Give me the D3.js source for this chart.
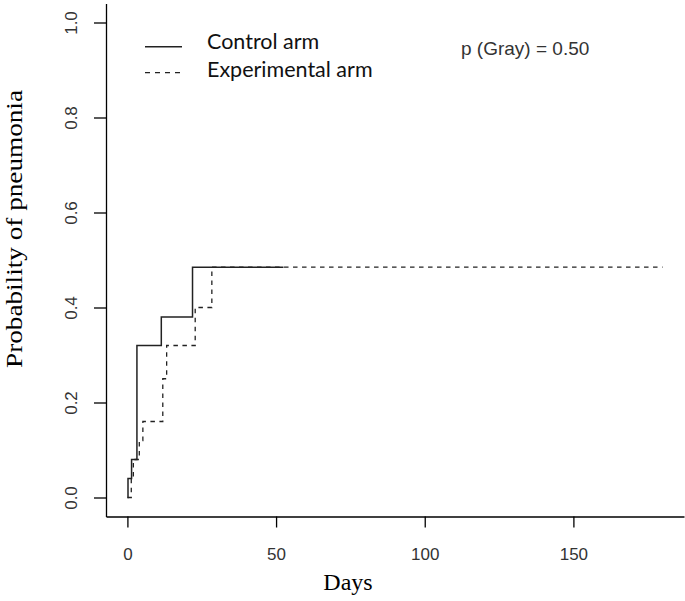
<!DOCTYPE html>
<html>
<head>
<meta charset="UTF-8"/>
<title>Cumulative incidence of pneumonia</title>
<script src="https://d3js.org/d3.v7.min.js"></script>
<style>
body { margin: 0; background: #fff; }
svg { display: block; }
.axis path, .axis line { stroke: #000; stroke-width: 1.3; }
.axis text { font-family: 'Liberation Sans', Arial, sans-serif; font-size: 17px; fill: #333; }
.title { font-family: 'Liberation Serif', 'Times New Roman', serif; font-size: 24px; fill: #000; }
.legend { font-family: Lato, 'Open Sans', sans-serif; font-size: 21.5px; fill: #111; }
.note { font-family: 'Liberation Sans', Arial, sans-serif; font-size: 19px; fill: #333; }
.curve { fill: none; stroke: #222; }
</style>
</head>
<body>
<svg width="685" height="601"></svg>
<script>
// step points (days, cumulative probability)
const controlDays = [0, 0.2, 1.4, 3.2, 11.4, 21.9, 52.5];
const controlProb = [0, 0.04, 0.08, 0.32, 0.38, 0.485, 0.485];

const expDays = [0, 1.3, 2.0, 4.0, 5.2, 11.9, 13.2, 22.8, 28.4, 180];
const expProb = [0, 0.04, 0.08, 0.12, 0.16, 0.25, 0.32, 0.40, 0.485, 0.485];

const xTicks = [0, 50, 100, 150];
const yTicks = [0, 0.2, 0.4, 0.6, 0.8, 1.0];

const svg = d3.select('svg');

// R style plot region: data range padded by 4%
const x = d3.scaleLinear().domain([-7.2, 187.2]).range([106, 684]);
const y = d3.scaleLinear().domain([-0.04, 1.04]).range([516.5, 3.5]);

svg.append('g')
  .attr('class', 'axis')
  .attr('transform', `translate(0, ${y.range()[0]})`)
  .call(d3.axisBottom(x).tickValues(xTicks).tickSize(11).tickSizeOuter(0))
  .selectAll('text').attr('dy', 0).attr('y', 43);

const yAxis = svg.append('g')
  .attr('class', 'axis')
  .attr('transform', `translate(${x.range()[0]}, 0)`)
  .call(d3.axisLeft(y).tickValues(yTicks).tickSize(12).tickSizeOuter(0).tickFormat(d3.format('.1f')));

yAxis.selectAll('text')
  .attr('x', 0).attr('y', -29).attr('dy', 0)
  .attr('text-anchor', 'middle')
  .attr('transform', 'rotate(-90)');

const line = d3.line()
  .x(d => x(d[0]))
  .y(d => y(d[1]))
  .curve(d3.curveStepAfter);

svg.append('path')
  .attr('class', 'curve')
  .attr('stroke-width', 1.5)
  .attr('d', line(controlDays.map((d, i) => [d, controlProb[i]])));

svg.append('path')
  .attr('class', 'curve')
  .attr('stroke-width', 1.3)
  .attr('stroke-dasharray', '4.5,4.5')
  .attr('d', line(expDays.map((d, i) => [d, expProb[i]])));

// axis titles
svg.append('text')
  .attr('class', 'title')
  .attr('x', 348)
  .attr('y', 590)
  .attr('text-anchor', 'middle')
  .text('Days');

svg.append('text')
  .attr('class', 'title')
  .attr('transform', 'translate(22, 229) rotate(-90)')
  .attr('text-anchor', 'middle')
  .attr('textLength', 278)
  .attr('lengthAdjust', 'spacingAndGlyphs')
  .text('Probability of pneumonia');

// legend
const legend = svg.append('g');
legend.append('line')
  .attr('x1', 145).attr('x2', 182).attr('y1', 46.7).attr('y2', 46.7)
  .attr('stroke', '#222').attr('stroke-width', 1.5);
legend.append('line')
  .attr('x1', 145).attr('x2', 182).attr('y1', 72.7).attr('y2', 72.7)
  .attr('stroke', '#222').attr('stroke-width', 1.3).attr('stroke-dasharray', '5,5');
legend.append('text').attr('class', 'legend').attr('x', 207).attr('y', 49).text('Control arm');
legend.append('text').attr('class', 'legend').attr('x', 207).attr('y', 76.5).text('Experimental arm');

svg.append('text')
  .attr('class', 'note')
  .attr('x', 461)
  .attr('y', 55)
  .text('p (Gray) = 0.50');
</script>
</body>
</html>
